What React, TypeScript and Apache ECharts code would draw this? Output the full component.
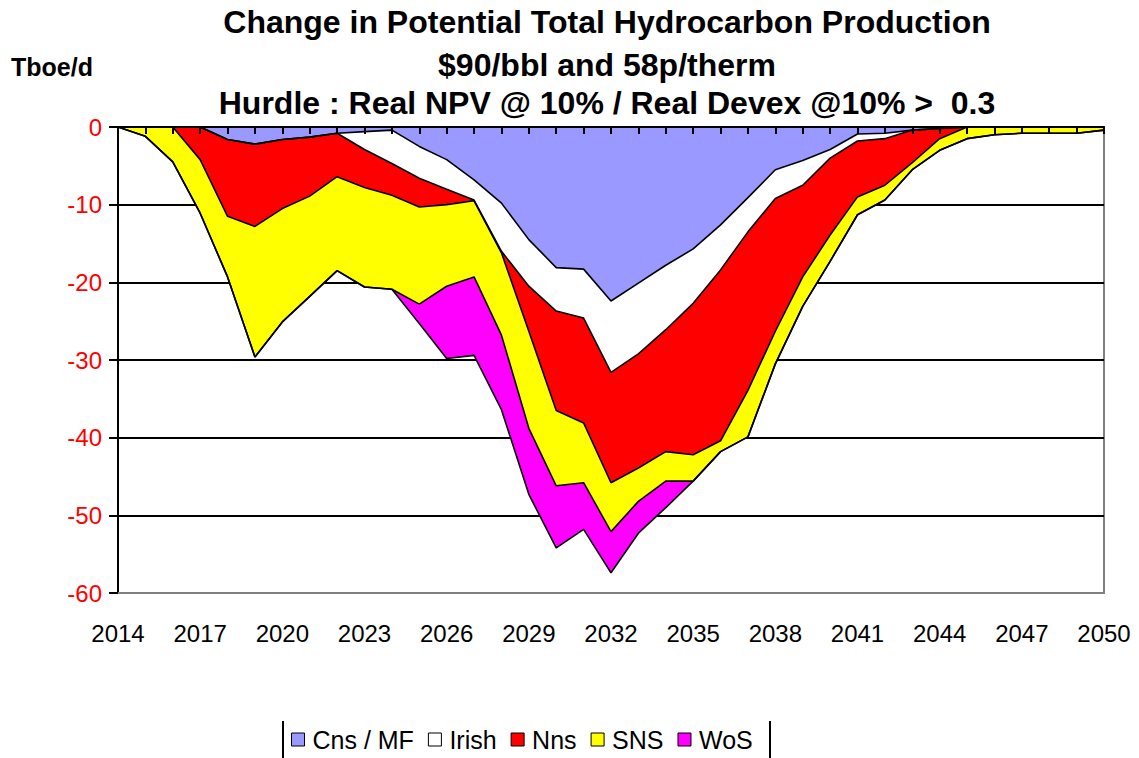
import React, { useEffect, useRef } from "react";
import * as echarts from "echarts";

const years = [
  "2014", "2015", "2016", "2017", "2018", "2019", "2020", "2021", "2022", "2023",
  "2024", "2025", "2026", "2027", "2028", "2029", "2030", "2031", "2032", "2033",
  "2034", "2035", "2036", "2037", "2038", "2039", "2040", "2041", "2042", "2043",
  "2044", "2045", "2046", "2047", "2048", "2049", "2050",
];

const cnsMf = [
  0, 0, 0, 0, -1.6, -2.2, -1.6, -1.3, -0.8, -0.6,
  -0.4, -2.5, -4.2, -6.8, -9.8, -14.5, -18.1, -18.3, -22.4, -20.1,
  -17.8, -15.7, -12.6, -9.1, -5.5, -4.3, -2.9, -0.9, -0.8, -0.4,
  -0.2, 0, 0, 0, 0, 0, 0,
];
const irish = [
  0, 0, 0, 0, 0, 0, 0, 0, 0, -2.3,
  -4.3, -4.1, -3.8, -2.6, -6.2, -6.0, -5.6, -6.3, -9.2, -9.1,
  -8.3, -7.0, -5.8, -4.4, -3.7, -3.2, -1.1, -0.9, -0.7, 0,
  0, 0, 0, 0, 0, 0, 0,
];
const nns = [
  0, 0, 0, -4.2, -9.9, -10.6, -8.9, -7.6, -5.6, -4.9,
  -4.1, -3.7, -2.0, -0.1, -0.2, -5.8, -12.8, -13.5, -14.2, -14.7,
  -15.7, -19.5, -22.0, -20.4, -17.1, -11.8, -9.9, -7.2, -6.0, -4.2,
  -1.3, 0, 0, 0, 0, 0, 0,
];
const sns = [
  0, -1.2, -4.5, -6.9, -7.8, -16.8, -14.6, -12.9, -12.1, -12.8,
  -12.1, -12.5, -10.5, -9.8, -10.6, -12.5, -9.7, -7.7, -6.3, -4.3,
  -3.8, -3.4, -1.4, -6.0, -4.2, -3.8, -3.4, -2.3, -1.9, -0.9,
  -1.5, -1.5, -1.0, -0.8, -0.8, -0.8, -0.4,
];
const wos = [
  0, 0, 0, 0, 0, 0, 0, 0, 0, 0,
  0, -2.5, -9.3, -10.1, -9.6, -8.5, -8.0, -6.0, -5.3, -4.1,
  -3.4, 0, 0, 0, 0, 0, 0, 0, 0, 0,
  0, 0, 0, 0, 0, 0, 0,
];

const seriesNames = ["Cns / MF", "Irish", "Nns", "SNS", "WoS"];
const seriesData = [cnsMf, irish, nns, sns, wos];
const seriesColors = ["#9999FF", "#FFFFFF", "#FF0000", "#FFFF00", "#FF00FF"];
const yTicks = { min: -60, max: 0, interval: 10 };
const titleLines = [
  "Change in Potential Total Hydrocarbon Production",
  "$90/bbl and 58p/therm",
  "Hurdle : Real NPV @ 10% / Real Devex @10% >  0.3",
];
const unitLabel = "Tboe/d";

const FONT = '"Liberation Sans", Arial, sans-serif';

export default function App() {
  const ref = useRef<HTMLDivElement>(null);

  useEffect(() => {
    if (!ref.current) return;
    const chart = echarts.init(ref.current, null, { renderer: "svg" });

    const areaSeries = seriesNames.map((name, i) => ({
      name,
      type: "line",
      xAxisIndex: 0,
      stack: "areas",
      stackStrategy: "all",
      data: seriesData[i],
      symbol: "none",
      color: seriesColors[i],
      lineStyle: { width: 0 },
      areaStyle: { color: seriesColors[i], opacity: 1 },
      z: 2,
      silent: true,
    }));
    const edgeSeries = seriesNames.map((name, i) => ({
      name: name + " edge",
      type: "line",
      xAxisIndex: 1,
      stack: "edges",
      stackStrategy: "all",
      data: seriesData[i],
      symbol: "none",
      lineStyle: { color: "#000", width: 1.6 },
      z: 3,
      silent: true,
    }));

    const titleY = [22, 65, 103];

    chart.setOption({
      animation: false,
      backgroundColor: "#fff",
      textStyle: { fontFamily: FONT },
      grid: {
        left: 118,
        right: 35,
        top: 127,
        bottom: 165,
        show: true,
        borderColor: "#808080",
        borderWidth: 2,
        backgroundColor: "transparent",
      },
      legend: {
        data: seriesNames,
        left: 286,
        top: 722,
        icon: "rect",
        itemWidth: 13,
        itemHeight: 13,
        itemGap: 14,
        itemStyle: { borderColor: "#000", borderWidth: 1 },
        textStyle: { fontSize: 25, color: "#000", fontFamily: FONT, padding: [0, 0, 0, 3] },
        selectedMode: false,
      },
      xAxis: [
        {
          type: "category",
          data: years,
          boundaryGap: false,
          position: "bottom",
          axisLine: { show: true, onZero: false, lineStyle: { color: "#808080", width: 2 } },
          axisTick: { show: false },
          axisLabel: {
            interval: 2,
            fontSize: 24,
            color: "#000",
            margin: 28,
            fontFamily: FONT,
          },
          splitLine: { show: false },
        },
        {
          type: "category",
          data: years,
          boundaryGap: false,
          position: "top",
          z: 10,
          axisLine: { show: true, onZero: false, lineStyle: { color: "#000", width: 2 } },
          axisTick: {
            show: true,
            inside: true,
            length: 7,
            interval: 0,
            lineStyle: { color: "#000", width: 2 },
          },
          axisLabel: { show: false },
          splitLine: { show: false },
        },
      ],
      yAxis: {
        type: "value",
        min: yTicks.min,
        max: yTicks.max,
        interval: yTicks.interval,
        axisLine: { show: true, lineStyle: { color: "#000", width: 2 } },
        axisTick: { show: true, length: 9, lineStyle: { color: "#000", width: 2 } },
        axisLabel: { color: "#FF0000", fontSize: 24, margin: 16, fontFamily: FONT },
        splitLine: {
          show: true,
          lineStyle: {
            color: ["#808080", "#000", "#000", "#000", "#000", "#000", "#000"],
            width: 2,
          },
        },
      },
      graphic: [
        ...titleLines.map((t, i) => ({
          type: "text",
          x: 607,
          y: titleY[i],
          style: {
            text: t,
            font: `bold 32px ${FONT}`,
            fill: "#000",
            textAlign: "center",
            textVerticalAlign: "middle",
          },
        })),
        {
          type: "text",
          x: 11,
          y: 67,
          style: {
            text: unitLabel,
            font: `bold 25px ${FONT}`,
            fill: "#000",
            textAlign: "left",
            textVerticalAlign: "middle",
          },
        },
        {
          type: "line",
          shape: { x1: 283, y1: 721, x2: 283, y2: 760 },
          style: { stroke: "#000", lineWidth: 2 },
        },
        {
          type: "line",
          shape: { x1: 770, y1: 721, x2: 770, y2: 760 },
          style: { stroke: "#000", lineWidth: 2 },
        },
      ],
      series: [...areaSeries, ...edgeSeries],
    });

    return () => chart.dispose();
  }, []);

  return (
    <div
      ref={ref}
      style={{ position: "fixed", left: 0, top: 0, width: 1139, height: 758 }}
    />
  );
}
